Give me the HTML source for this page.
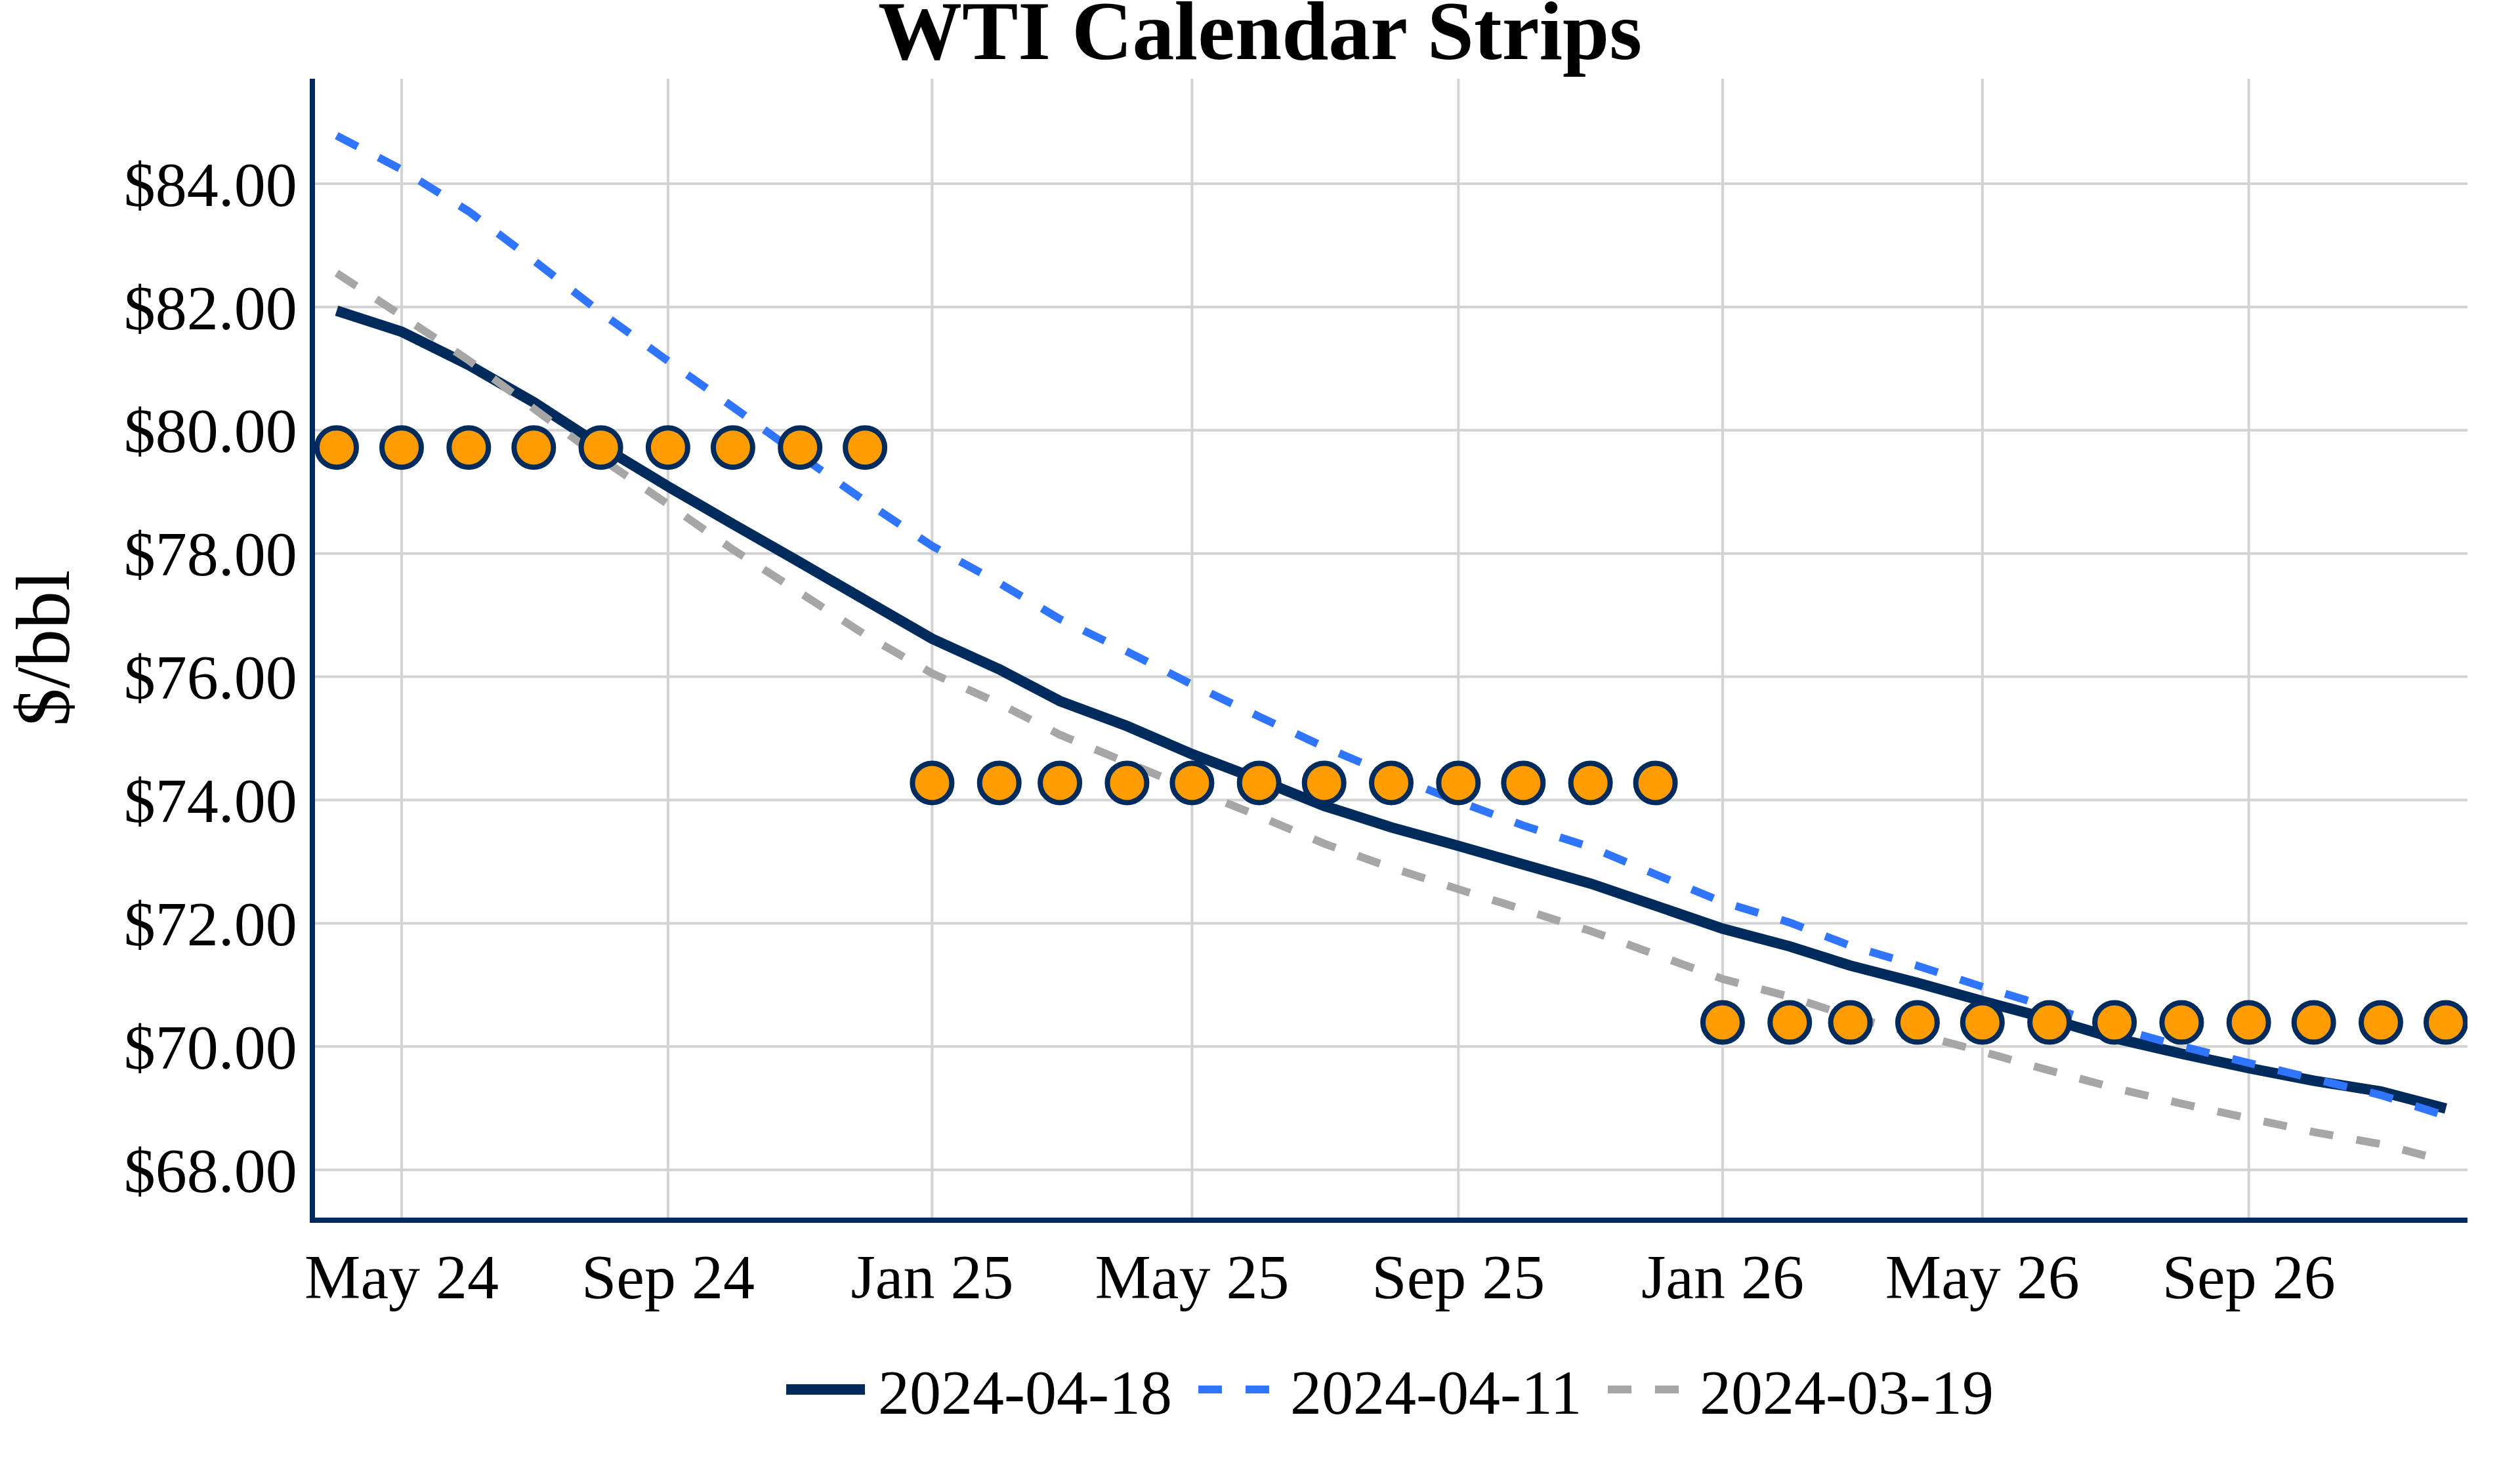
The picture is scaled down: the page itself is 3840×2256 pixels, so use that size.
<!DOCTYPE html>
<html lang="en"><head><meta charset="utf-8"><title>WTI Calendar Strips</title>
<style>html,body{margin:0;padding:0;background:#fff}svg{display:block}text{font-family:"Liberation Serif","Times New Roman",serif;fill:#000}</style></head><body>
<svg width="3840" height="2256" viewBox="0 0 3840 2256">
<rect width="3840" height="2256" fill="#fff"/>
<defs><clipPath id="plotclip"><rect x="480" y="120" width="3280" height="1736"/></clipPath></defs>
<path d="M612.0,120V1856M1017.9,120V1856M1420.4,120V1856M1816.4,120V1856M2222.3,120V1856M2624.9,120V1856M3020.8,120V1856M3426.7,120V1856M480,280.0H3760M480,467.9H3760M480,655.8H3760M480,843.7H3760M480,1031.6H3760M480,1219.5H3760M480,1407.4H3760M480,1595.3H3760M480,1783.2H3760" stroke="#d3d3d3" stroke-width="4" fill="none"/>
<g clip-path="url(#plotclip)" fill="none" stroke-linejoin="miter" stroke-miterlimit="2">
<path d="M513.0,473.6L612.0,505.6L714.3,556.4L813.3,613.2L915.6,679.5L1017.9,741.5L1116.9,798.9L1219.2,857.3L1318.1,914.6L1420.4,973.7L1522.7,1020.2L1615.1,1068.7L1717.4,1106.8L1816.4,1149.5L1918.7,1188.4L2017.7,1228.4L2120.0,1261.1L2222.3,1289.4L2321.3,1317.8L2423.6,1346.8L2522.6,1380.5L2624.9,1415.5L2727.2,1442.6L2819.6,1471.9L2921.9,1498.2L3020.8,1525.9L3123.1,1553.2L3222.1,1582.4L3324.4,1606.3L3426.7,1628.1L3525.7,1647.4L3628.0,1663.8L3727.0,1689.8" stroke="#002b5d" stroke-width="16"/>
<path d="M513.0,206.7L612.0,258.4L714.3,322.3L813.3,397.0L915.6,476.5L1017.9,550.2L1116.9,620.5L1219.2,694.3L1318.1,763.9L1420.4,832.2L1522.7,888.8L1615.1,943.6L1717.4,993.1L1816.4,1043.3L1918.7,1092.3L2017.7,1138.4L2120.0,1181.8L2222.3,1221.6L2321.3,1258.4L2423.6,1291.2L2522.6,1332.7L2624.9,1375.0L2727.2,1406.2L2819.6,1441.6L2921.9,1472.2L3020.8,1504.1L3123.1,1535.5L3222.1,1566.5L3324.4,1594.8L3426.7,1620.3L3525.7,1644.4L3628.0,1669.3L3727.0,1700.9" stroke="#2f75ff" stroke-width="12" stroke-dasharray="36,36"/>
<path d="M513.0,416.3L612.0,481.2L714.3,549.3L813.3,622.7L915.6,698.6L1017.9,768.8L1116.9,837.8L1219.2,903.5L1318.1,967.5L1420.4,1026.4L1522.7,1072.4L1615.1,1120.0L1717.4,1162.4L1816.4,1203.1L1918.7,1244.0L2017.7,1285.9L2120.0,1322.7L2222.3,1355.4L2321.3,1386.5L2423.6,1419.1L2522.6,1454.9L2624.9,1492.2L2727.2,1519.4L2819.6,1549.4L2921.9,1576.6L3020.8,1603.1L3123.1,1631.8L3222.1,1658.5L3324.4,1682.3L3426.7,1704.7L3525.7,1725.6L3628.0,1744.0L3727.0,1769.7" stroke="#a6a6a6" stroke-width="12" stroke-dasharray="36,36"/>
<g fill="#ff9c00" stroke="#002b5d" stroke-width="8">
<circle cx="513.0" cy="682.2" r="30"/>
<circle cx="612.0" cy="682.2" r="30"/>
<circle cx="714.3" cy="682.2" r="30"/>
<circle cx="813.3" cy="682.2" r="30"/>
<circle cx="915.6" cy="682.2" r="30"/>
<circle cx="1017.9" cy="682.2" r="30"/>
<circle cx="1116.9" cy="682.2" r="30"/>
<circle cx="1219.2" cy="682.2" r="30"/>
<circle cx="1318.1" cy="682.2" r="30"/>
<circle cx="1420.4" cy="1193.4" r="30"/>
<circle cx="1522.7" cy="1193.4" r="30"/>
<circle cx="1615.1" cy="1193.4" r="30"/>
<circle cx="1717.4" cy="1193.4" r="30"/>
<circle cx="1816.4" cy="1193.4" r="30"/>
<circle cx="1918.7" cy="1193.4" r="30"/>
<circle cx="2017.7" cy="1193.4" r="30"/>
<circle cx="2120.0" cy="1193.4" r="30"/>
<circle cx="2222.3" cy="1193.4" r="30"/>
<circle cx="2321.3" cy="1193.4" r="30"/>
<circle cx="2423.6" cy="1193.4" r="30"/>
<circle cx="2522.6" cy="1193.4" r="30"/>
<circle cx="2624.9" cy="1558.6" r="30"/>
<circle cx="2727.2" cy="1558.6" r="30"/>
<circle cx="2819.6" cy="1558.6" r="30"/>
<circle cx="2921.9" cy="1558.6" r="30"/>
<circle cx="3020.8" cy="1558.6" r="30"/>
<circle cx="3123.1" cy="1558.6" r="30"/>
<circle cx="3222.1" cy="1558.6" r="30"/>
<circle cx="3324.4" cy="1558.6" r="30"/>
<circle cx="3426.7" cy="1558.6" r="30"/>
<circle cx="3525.7" cy="1558.6" r="30"/>
<circle cx="3628.0" cy="1558.6" r="30"/>
<circle cx="3727.0" cy="1558.6" r="30"/>
</g></g>
<rect x="472" y="120" width="8" height="1744" fill="#002b5d"/>
<rect x="472" y="1856" width="3288" height="8" fill="#002b5d"/>
<text x="612.0" y="1979.2" font-size="96" text-anchor="middle">May 24</text>
<text x="1017.9" y="1979.2" font-size="96" text-anchor="middle">Sep 24</text>
<text x="1420.4" y="1979.2" font-size="96" text-anchor="middle">Jan 25</text>
<text x="1816.4" y="1979.2" font-size="96" text-anchor="middle">May 25</text>
<text x="2222.3" y="1979.2" font-size="96" text-anchor="middle">Sep 25</text>
<text x="2624.9" y="1979.2" font-size="96" text-anchor="middle">Jan 26</text>
<text x="3020.8" y="1979.2" font-size="96" text-anchor="middle">May 26</text>
<text x="3426.7" y="1979.2" font-size="96" text-anchor="middle">Sep 26</text>
<text x="452.8" y="313.6" font-size="96" text-anchor="end">$84.00</text>
<text x="452.8" y="501.5" font-size="96" text-anchor="end">$82.00</text>
<text x="452.8" y="689.4" font-size="96" text-anchor="end">$80.00</text>
<text x="452.8" y="877.3" font-size="96" text-anchor="end">$78.00</text>
<text x="452.8" y="1065.2" font-size="96" text-anchor="end">$76.00</text>
<text x="452.8" y="1253.1" font-size="96" text-anchor="end">$74.00</text>
<text x="452.8" y="1441.0" font-size="96" text-anchor="end">$72.00</text>
<text x="452.8" y="1628.9" font-size="96" text-anchor="end">$70.00</text>
<text x="452.8" y="1816.8" font-size="96" text-anchor="end">$68.00</text>
<text transform="translate(104.5,988) rotate(-90)" font-size="116" text-anchor="middle">$/bbl</text>
<text x="1920" y="90" font-size="128" font-weight="bold" text-anchor="middle">WTI Calendar Strips</text>
<path d="M1198,2118H1318" stroke="#002b5d" stroke-width="16" fill="none"/>
<text x="1338" y="2155" font-size="96">2024-04-18</text>
<path d="M1826,2118H1946" stroke="#2f75ff" stroke-width="12" stroke-dasharray="36,36" fill="none"/>
<text x="1966" y="2155" font-size="96">2024-04-11</text>
<path d="M2450,2118H2570" stroke="#a6a6a6" stroke-width="12" stroke-dasharray="36,36" fill="none"/>
<text x="2590" y="2155" font-size="96">2024-03-19</text>
</svg></body></html>
